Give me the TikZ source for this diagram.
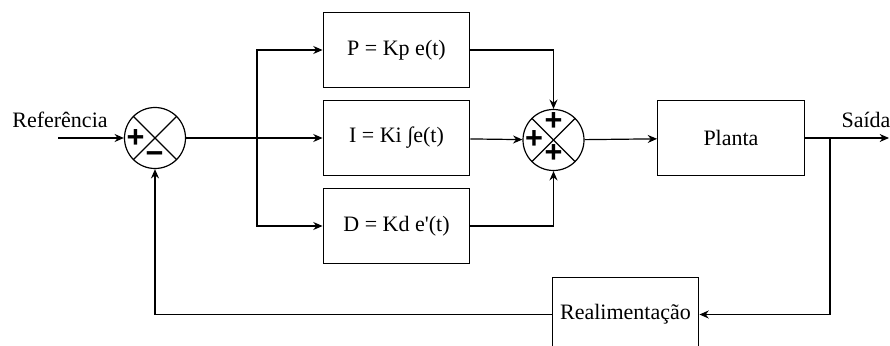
\documentclass[tikz,border=0pt]{standalone}
\usepackage{fontspec}
\setmainfont{Liberation Serif}
\newfontfamily\signfont{Liberation Sans}
\usetikzlibrary{arrows.meta, positioning}

\begin{document}
\begin{tikzpicture}[
  x=0.75pt, y=-0.75pt,
  font=\fontsize{16.5}{20}\selectfont,
  block/.style={rectangle, draw=black, line width=0.9pt, minimum width=110pt, minimum height=56pt, align=center},
  sumnode/.style={circle, draw=black, line width=0.9pt, minimum size=45.75pt, inner sep=0pt},
  sign/.style={font=\fontsize{23}{23}\signfont\bfseries, inner sep=0pt},
  arrow/.style={-{Stealth[length=7pt, width=6pt]}, line width=0.9pt},
  line/.style={line width=0.9pt},
]
\useasboundingbox (0,0) rectangle (890,346);
\clip (0,0) rectangle (890,346);

% Summing junctions
\node[sumnode] (sum1) at (155,138) {};
\node[sumnode] (sum2) at (553.5,140) {};
\draw[line] (sum1.north west) -- (sum1.south east);
\draw[line] (sum1.north east) -- (sum1.south west);
\draw[line] (sum2.north west) -- (sum2.south east);
\draw[line] (sum2.north east) -- (sum2.south west);
\node[sign] (sum1plus) at (135.5,138.5) {+};
\node[sign] (sum1minus) at (154.5,158) {−};
\node[sign] (sum2top) at (553.5,122) {+};
\node[sign] (sum2left) at (534,140) {+};
\node[sign] (sum2bottom) at (553.5,154) {+};

% Controller blocks
\node[block] (ctrlI) at (396.5,138) {I = Ki ∫e(t)};
\node[block] (ctrlP) at (396.5,50) {P = Kp e(t)};
\node[block] (ctrlD) at (396.5,226) {D = Kd e\textquotesingle(t)};
\node[block] (plant) at (731,138) {Planta};
\node[block] (feedback) at (625.5,314.5) {Realimentação};

% Labels
\node (lblRef) at (60,120) {Referência};
\node (lblOut) at (866,120) {Saída};

% Points
\coordinate (inp) at (58,138);
\coordinate (split) at (257,138);
\coordinate (tap) at (830,138);
\coordinate (out) at (889,138);

% Connections
\draw[arrow] (inp) -- (sum1);
\draw[line] (sum1) -- (split);
\draw[arrow] (split) |- (ctrlP);
\draw[arrow] (split) -- (ctrlI);
\draw[arrow] (split) |- (ctrlD);
\draw[arrow] (ctrlP) -| (sum2);
\draw[arrow] (ctrlI) -- (sum2);
\draw[arrow] (ctrlD) -| (sum2);
\draw[arrow] (sum2) -- (plant);
\draw[arrow] (plant) -- (out);
\draw[arrow] (tap) |- (feedback);
\draw[arrow] (feedback) -| (sum1);

\end{tikzpicture}
\end{document}
